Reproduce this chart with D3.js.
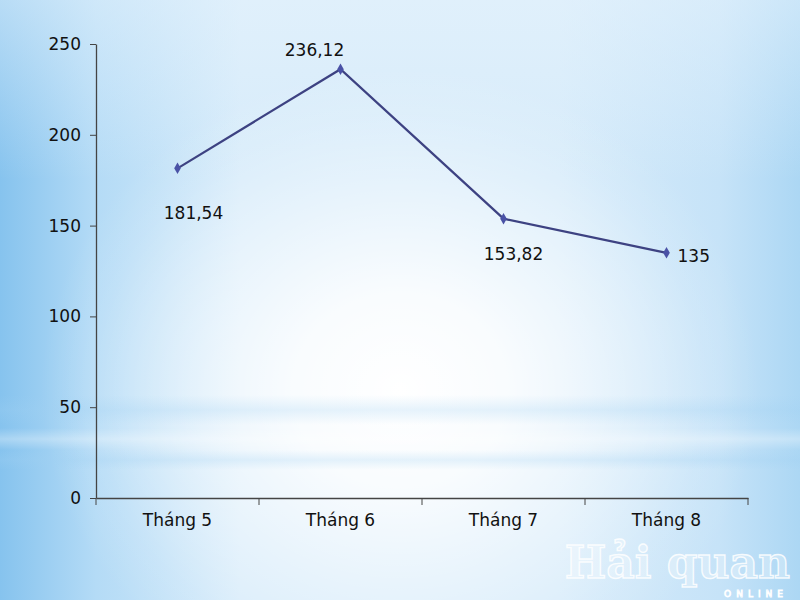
<!DOCTYPE html>
<html><head><meta charset="utf-8">
<script src="https://cdn.jsdelivr.net/npm/d3@7/dist/d3.min.js"></script>
<style>html,body{margin:0;padding:0;overflow:hidden;}svg{display:block;}</style>
</head><body>
<svg id="c" width="800" height="600"></svg>
<script>
const categories = ["Tháng 5", "Tháng 6", "Tháng 7", "Tháng 8"];
const values = [181.54, 236.12, 153.82, 135];
const valueLabels = ["181,54", "236,12", "153,82", "135"];
const yTicks = [0, 50, 100, 150, 200, 250];

const svg = d3.select("#c");
const defs = svg.append("defs");

const lg = defs.append("linearGradient").attr("id","bgL").attr("x1","0").attr("y1","0").attr("x2","1").attr("y2","0");
[[0,"#86c3ee"],[0.12,"#b4dbf6"],[0.3,"#d6ebfa"],[0.7,"#d6ebfa"],[0.9,"#c6e3f8"],[1,"#acd7f4"]]
  .forEach(([o,c])=>lg.append("stop").attr("offset",o).attr("stop-color",c));

const rg = defs.append("radialGradient").attr("id","bgR")
  .attr("gradientUnits","userSpaceOnUse").attr("cx",400).attr("cy",390).attr("r",360)
  .attr("gradientTransform","translate(400,390) scale(1,0.9) translate(-400,-390)");
[[0,1],[0.3,0.85],[0.6,0.45],[0.85,0.12],[1,0]]
  .forEach(([o,a])=>rg.append("stop").attr("offset",o).attr("stop-color","#ffffff").attr("stop-opacity",a));

const tg = defs.append("linearGradient").attr("id","bgT").attr("x1","0").attr("y1","0").attr("x2","0").attr("y2","1");
tg.append("stop").attr("offset","0").attr("stop-color","#eaf5fd").attr("stop-opacity",0.5);
tg.append("stop").attr("offset","0.3").attr("stop-color","#eaf5fd").attr("stop-opacity",0);

const bandG = defs.append("linearGradient").attr("id","band").attr("x1","0").attr("y1","0").attr("x2","0").attr("y2","1");
bandG.append("stop").attr("offset","0").attr("stop-color","#ffffff").attr("stop-opacity",0);
bandG.append("stop").attr("offset","0.5").attr("stop-color","#ffffff").attr("stop-opacity",0.3);
bandG.append("stop").attr("offset","1").attr("stop-color","#ffffff").attr("stop-opacity",0);
const bandB = defs.append("linearGradient").attr("id","bandB").attr("x1","0").attr("y1","0").attr("x2","0").attr("y2","1");
bandB.append("stop").attr("offset","0").attr("stop-color","#9fd0f2").attr("stop-opacity",0);
bandB.append("stop").attr("offset","0.5").attr("stop-color","#9fd0f2").attr("stop-opacity",0.25);
bandB.append("stop").attr("offset","1").attr("stop-color","#9fd0f2").attr("stop-opacity",0);

svg.append("rect").attr("width",800).attr("height",600).attr("fill","url(#bgL)");
svg.append("rect").attr("width",800).attr("height",600).attr("fill","url(#bgT)");
svg.append("rect").attr("width",800).attr("height",600).attr("fill","url(#bgR)");
svg.append("rect").attr("x",0).attr("y",395).attr("width",800).attr("height",30).attr("fill","url(#bandB)");
svg.append("rect").attr("x",0).attr("y",428).attr("width",800).attr("height",22).attr("fill","url(#band)");
svg.append("rect").attr("x",0).attr("y",450).attr("width",800).attr("height",20).attr("fill","url(#bandB)");

// watermark
const wm = svg.append("g");
wm.append("text").attr("x",790).attr("y",578).attr("text-anchor","end")
  .attr("font-family","DejaVu Serif").attr("font-weight","bold").attr("font-size",44)
  .attr("fill","#ffffff").attr("fill-opacity",0.3).attr("stroke","#ffffff").attr("stroke-opacity",0.85).attr("stroke-width",1.4)
  .text("Hải quan");
wm.append("text").attr("x",788).attr("y",597).attr("text-anchor","end")
  .attr("font-family","DejaVu Sans").attr("font-size",9).attr("letter-spacing",5)
  .attr("fill","none").attr("stroke","#ffffff").attr("stroke-width",0.9).text("ONLINE");

const x = d3.scaleBand().domain(categories).range([96, 748]).paddingInner(0).paddingOuter(0);
const y = d3.scaleLinear().domain([0, 250]).range([498, 44]);

const font = "DejaVu Sans";
const yAxis = svg.append("g").attr("transform","translate(96,0)")
  .call(d3.axisLeft(y).tickValues(yTicks).tickSize(6).tickSizeOuter(0).tickPadding(9));
yAxis.select(".domain").attr("stroke","#444").attr("stroke-width",1.3);
yAxis.selectAll(".tick line").attr("stroke","#444");
yAxis.selectAll("text").attr("font-family",font).attr("font-size",17).attr("fill","#111");

const xAxis = svg.append("g").attr("transform","translate(0,498)")
  .call(d3.axisBottom(x).tickSize(0).tickPadding(16));
xAxis.select(".domain").attr("stroke","#444").attr("stroke-width",1.3);
xAxis.selectAll("text").attr("font-family",font).attr("font-size",17).attr("fill","#111");
const bounds = categories.map(c=>x(c)).concat([x(categories[categories.length-1])+x.bandwidth()]);
xAxis.selectAll(".btick").data(bounds).enter().append("line").attr("class","btick")
  .attr("x1",d=>d).attr("x2",d=>d).attr("y1",0).attr("y2",7).attr("stroke","#444").attr("stroke-width",1);

const cx = c => x(c) + x.bandwidth()/2;
const pts = categories.map((c,i)=>({c, v:values[i], lab:valueLabels[i]}));

svg.append("path").datum(pts)
  .attr("d", d3.line().x(d=>cx(d.c)).y(d=>y(d.v)))
  .attr("fill","none").attr("stroke","#3d4282").attr("stroke-width",2.2);

svg.selectAll(".mk").data(pts).enter().append("path").attr("class","mk")
  .attr("transform",d=>`translate(${cx(d.c)},${y(d.v)})`)
  .attr("d", d3.symbol().type(d3.symbolDiamond).size(38))
  .attr("fill","#4a52a6");

const labelPos = [
  {dx:16, dy:51, anchor:"middle"},
  {dx:-26, dy:-13, anchor:"middle"},
  {dx:10, dy:41, anchor:"middle"},
  {dx:11, dy:9, anchor:"start"}
];
svg.selectAll(".lab").data(pts).enter().append("text").attr("class","lab")
  .attr("x",(d,i)=>cx(d.c)+labelPos[i].dx)
  .attr("y",(d,i)=>y(d.v)+labelPos[i].dy)
  .attr("text-anchor",(d,i)=>labelPos[i].anchor)
  .attr("font-family",font).attr("font-size",17).attr("fill","#111")
  .text(d=>d.lab);
</script>
</body></html>
